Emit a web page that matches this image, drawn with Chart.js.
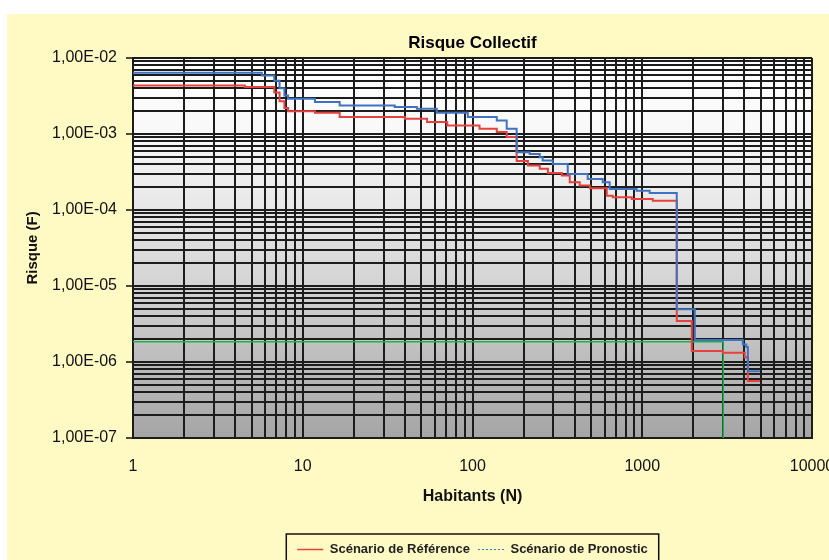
<!DOCTYPE html>
<html><head><meta charset="utf-8">
<script src="https://cdn.jsdelivr.net/npm/chart.js@4/dist/chart.umd.min.js"></script>
<style>html,body{margin:0;padding:0;background:#fff;}#wrap{width:829px;height:560px;}</style>
</head><body><div id="wrap"><canvas id="c" width="829" height="560"></canvas></div>
<script>
const chartTitle = 'Risque Collectif';
const xAxisTitle = 'Habitants (N)';
const yAxisTitle = 'Risque (F)';
const seriesNames = ['Scénario de Référence', 'Scénario de Pronostic'];

const refN = [1, 4.56, 6.8, 7.3, 7.8, 8.2, 11.8, 16.5, 40, 54, 71, 110, 139, 159, 182, 212, 249, 278, 336, 374, 428, 491, 618, 670, 867, 1153, 1597, 1958, 2981, 4015, 4190, 4930];
const refF = [4.35e-3, 4.14e-3, 3.5e-3, 2.7e-3, 2.2e-3, 1.98e-3, 1.90e-3, 1.67e-3, 1.58e-3, 1.43e-3, 1.29e-3, 1.17e-3, 1.06e-3, 9.1e-4, 4.4e-4, 3.83e-4, 3.47e-4, 3.07e-4, 2.83e-4, 2.31e-4, 2.09e-4, 1.93e-4, 1.54e-4, 1.47e-4, 1.39e-4, 1.32e-4, 3.45e-6, 1.39e-6, 1.32e-6, 1.15e-6, 5.6e-7, 5.6e-7];

const proN = [1, 5.74, 6.8, 7.3, 7.8, 8.2, 11.8, 16.5, 34.8, 47, 61.6, 93.8, 139, 159, 182, 217, 249, 259, 297, 364, 477, 585, 643, 927, 1106, 1597, 2040, 3910, 4100, 4190, 4930];
const proF = [6.4e-3, 5.89e-3, 5.0e-3, 4.0e-3, 3.2e-3, 2.90e-3, 2.63e-3, 2.37e-3, 2.26e-3, 2.14e-3, 1.90e-3, 1.67e-3, 1.50e-3, 1.17e-3, 5.75e-4, 5.46e-4, 4.94e-4, 4.46e-4, 4.03e-4, 2.98e-4, 2.56e-4, 2.31e-4, 1.89e-4, 1.79e-4, 1.67e-4, 4.94e-6, 1.95e-6, 1.7e-6, 1.57e-6, 7.55e-7, 7.55e-7];

const critN = [1, 3000, 3000];
const critF = [1.85e-6, 1.85e-6, 1e-7];

const xDecades = [1, 10, 100, 1000, 10000];
const xTickLabels = ['1', '10', '100', '1000', '10000'];
const yDecades = [1e-7, 1e-6, 1e-5, 1e-4, 1e-3, 1e-2];
const yTickLabels = ['1,00E-07', '1,00E-06', '1,00E-05', '1,00E-04', '1,00E-03', '1,00E-02'];

const colRef = '#E8403C';
const colPro = '#3F73C2';
const colCrit = '#22B04A';
const FONT = "'Liberation Sans', Arial, sans-serif";

function logTicks(decades) {
  const out = [];
  for (let i = 0; i < decades.length - 1; i++) {
    for (let m = 1; m <= 9; m++) out.push(+(m * decades[i]).toPrecision(6));
  }
  out.push(decades[decades.length - 1]);
  return out;
}
function decadeIndex(decades, v) {
  return decades.findIndex(d => Math.abs(d - v) / d < 1e-6);
}
const pts = (xs, ys) => xs.map((x, i) => ({x: x, y: ys[i]}));

const bgPlugin = {
  id: 'bg',
  beforeDraw(chart) {
    const ctx = chart.ctx, a = chart.chartArea;
    ctx.save();
    ctx.fillStyle = '#ffffff';
    ctx.fillRect(0, 0, chart.width, chart.height);
    ctx.fillStyle = 'rgb(255,250,196)';
    ctx.fillRect(7, 14, chart.width - 7, chart.height - 14);
    const g = ctx.createLinearGradient(0, a.top, 0, a.bottom);
    g.addColorStop(0, '#ffffff');
    g.addColorStop(0.2, '#f8f8f8');
    g.addColorStop(0.4, '#e7e7e7');
    g.addColorStop(0.6, '#d3d3d3');
    g.addColorStop(0.8, '#bcbcbc');
    g.addColorStop(1, '#a5a5a5');
    ctx.fillStyle = g;
    ctx.fillRect(a.left, a.top, a.right - a.left, a.bottom - a.top);
    ctx.restore();
  },
  afterDraw(chart) {
    const lg = chart.legend;
    if (!lg || !lg.legendHitBoxes || !lg.legendHitBoxes.length) return;
    const hb = lg.legendHitBoxes;
    const first = hb[0], last = hb[hb.length - 1];
    const ctx = chart.ctx;
    ctx.save();
    ctx.strokeStyle = '#111';
    ctx.lineWidth = 1.5;
    const l = first.left - 11, r = last.left + last.width + 11, t = first.top - 9;
    ctx.strokeRect(l, t, r - l, chart.height + 10 - t);
    ctx.restore();
  }
};

new Chart(document.getElementById('c'), {
  type: 'line',
  data: {
    datasets: [
      {label: seriesNames[0], data: pts(refN, refF), borderColor: colRef, backgroundColor: colRef, borderWidth: 2, pointRadius: 0, stepped: 'before', fill: false, order: 1},
      {label: seriesNames[1], data: pts(proN, proF), borderColor: colPro, backgroundColor: colPro, borderWidth: 2, pointRadius: 0, stepped: 'before', fill: false, order: 0},
      {label: 'critère', data: pts(critN, critF), borderColor: colCrit, backgroundColor: colCrit, borderWidth: 1.5, pointRadius: 0, fill: false, order: 2}
    ]
  },
  options: {
    responsive: false,
    animation: false,
    devicePixelRatio: 1,
    layout: {padding: {left: 0, right: 17, top: 0, bottom: -6}},
    scales: {
      x: {
        type: 'logarithmic', min: 1, max: 10000, position: 'bottom',
        afterBuildTicks: s => { s.ticks = logTicks(xDecades).map(v => ({value: v})); },
        afterFit: s => { s.height = 97; s.paddingLeft = 0; s.paddingRight = 0; },
        grid: {color: '#1c1c1c', lineWidth: 2, drawTicks: false},
        border: {display: true, color: '#1c1c1c', width: 2},
        ticks: {
          autoSkip: false, maxRotation: 0, padding: 19, color: '#111',
          font: {family: FONT, size: 16},
          callback: v => { const i = decadeIndex(xDecades, v); return i >= 0 ? xTickLabels[i] : ''; }
        },
        title: {display: true, text: xAxisTitle, color: '#111', font: {family: FONT, size: 16, weight: 'bold'}, padding: {top: 0, bottom: 29}}
      },
      y: {
        type: 'logarithmic', min: 1e-7, max: 1e-2, position: 'left',
        afterBuildTicks: s => { s.ticks = logTicks(yDecades).map(v => ({value: v})); },
        afterFit: s => { s.width = 133; s.paddingTop = 0; s.paddingBottom = 0; },
        grid: {
          color: '#1c1c1c', lineWidth: 2, drawTicks: true, tickLength: 7, tickWidth: 1.5,
          tickColor: c => (c.tick && decadeIndex(yDecades, c.tick.value) >= 0) ? '#111' : 'rgba(0,0,0,0)'
        },
        border: {display: true, color: '#1c1c1c', width: 2},
        ticks: {
          autoSkip: false, padding: 9, color: '#111',
          font: {family: FONT, size: 16},
          callback: v => { const i = decadeIndex(yDecades, v); return i >= 0 ? yTickLabels[i] : ''; }
        },
        title: {display: true, text: yAxisTitle, color: '#111', font: {family: FONT, size: 15, weight: 'bold'}, padding: {top: 24, bottom: 0}}
      }
    },
    plugins: {
      title: {display: true, text: chartTitle, fullSize: false, color: '#000', font: {family: FONT, size: 17, weight: 'bold'}, padding: {top: 33, bottom: 4.5}},
      legend: {
        display: true, position: 'bottom', fullSize: false,
        labels: {
          usePointStyle: true, pointStyle: 'line', pointStyleWidth: 26, padding: 8,
          color: '#222', font: {family: FONT, size: 13, weight: 'bold'},
          generateLabels: chart => chart.data.datasets.slice(0, 2).map((ds, i) => ({
            text: ds.label, strokeStyle: ds.borderColor, fillStyle: ds.borderColor,
            lineWidth: i === 0 ? 1.5 : 1, lineDash: i === 0 ? [] : [2, 2],
            pointStyle: 'line', hidden: false, datasetIndex: i, fontColor: '#222'
          }))
        }
      },
      tooltip: {enabled: false}
    }
  },
  plugins: [bgPlugin]
});
</script>
</body></html>
